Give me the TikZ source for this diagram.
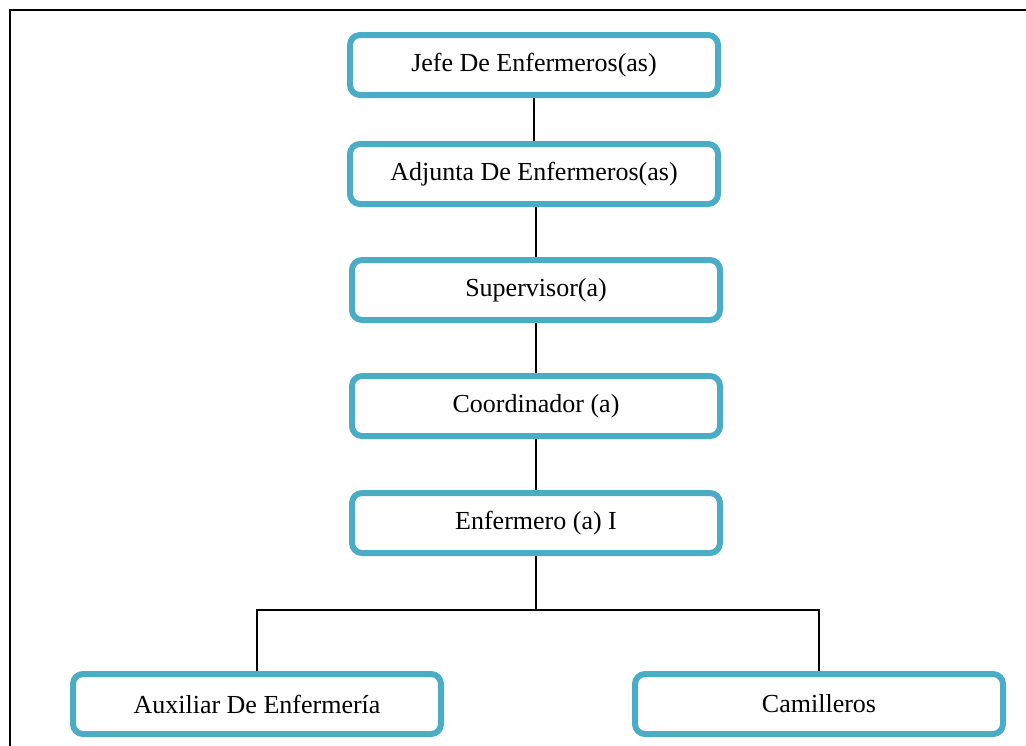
\documentclass[tikz,border=0pt]{standalone}
\usepackage{fontspec}
\setmainfont{Liberation Serif}
\usetikzlibrary{positioning}

\definecolor{boxblue}{HTML}{4BACC6}

\begin{document}
\begin{tikzpicture}[x=0.5pt, y=-0.5pt,
    rolebox/.style={draw=boxblue, line width=3pt, rounded corners=5pt,
      fill=white, minimum width=184pt, minimum height=30pt,
      font=\fontsize{13}{15}\selectfont},
    link/.style={line width=0.9pt}]
    \useasboundingbox (0,0) rectangle (1026,745);

    % Frame
    \draw[line width=1pt] (10,760) -- (10,10) -- (1040,10);

    % Chain of roles
    \node[rolebox] (jefe)  at (534,65)  {Jefe De Enfermeros(as)};
    \node[rolebox] (adj)   at (534,174) {Adjunta De Enfermeros(as)};
    \node[rolebox] (sup)   at (536,290) {Supervisor(a)};
    \node[rolebox] (coord) at (536,406) {Coordinador (a)};
    \node[rolebox] (enf)   at (536,523) {Enfermero (a) I};

    % Bottom roles
    \node[rolebox] (aux) at (257,704) {Auxiliar De Enfermería};
    \node[rolebox] (cam) at (819,704) {Camilleros};

    % Links
    \draw[link] (jefe.south) -- (jefe.south |- adj.north);
    \draw[link] (sup.north) -- (sup.north |- adj.south);
    \draw[link] (sup) -- (coord);
    \draw[link] (coord) -- (enf);

    % Split to the bottom roles
    \coordinate (split) at (537,610);
    \draw[link] (enf.south) -- (enf.south |- split);
    \draw[link] (aux.north) |- (split) -| (cam.north);
  \end{tikzpicture}
\end{document}
